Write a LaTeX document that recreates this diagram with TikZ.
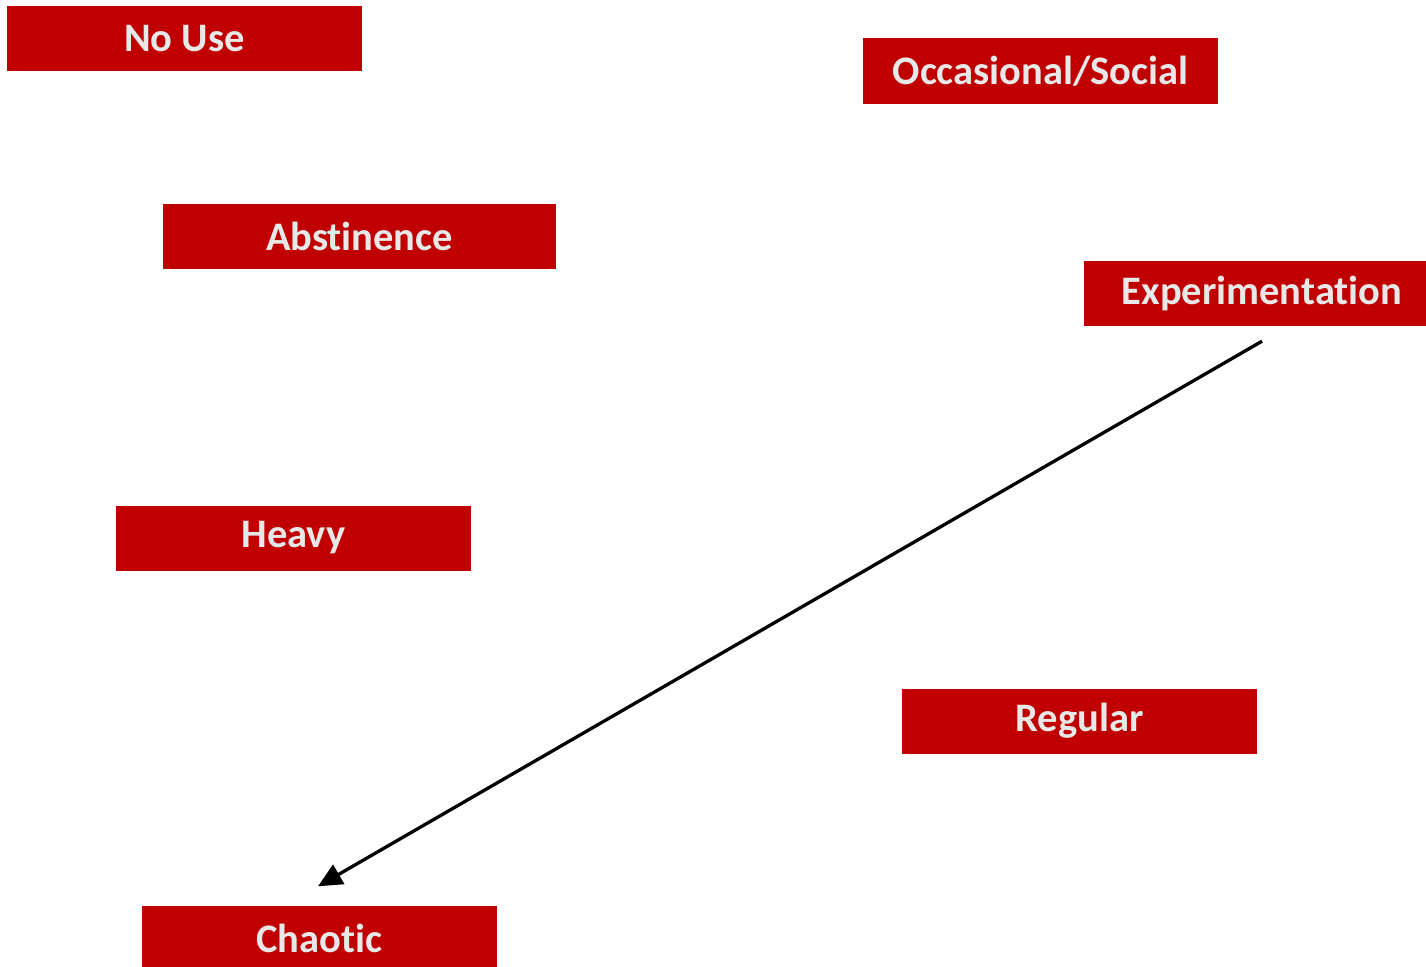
\documentclass[tikz,border=0pt]{standalone}
\usepackage{fontspec}
\setmainfont[Ligatures={NoCommon}]{Carlito}
\usetikzlibrary{arrows.meta,calc}
\definecolor{stagered}{HTML}{C00000}
\definecolor{stagetext}{HTML}{E8E8E8}
\tikzset{
  stage/.style={rectangle,fill=stagered,text=stagetext,inner sep=0pt,
    minimum width=355pt,minimum height=65pt,
    font=\fontsize{40.5}{46}\selectfont\bfseries},
}
\begin{document}
\begin{tikzpicture}[x=1pt,y=-1pt]
        \useasboundingbox (0,0) rectangle (1426,966);

        \begin{scope}[every node/.style={stage}]
          \node (nouse)   at (184.5,38.5) {No Use};
          \node (social)  at (1040.5,71)  {Occasional/Social};
          \node[minimum width=393pt] (abst) at (359.5,236) {Abstinence};
          \node[minimum width=356pt] (exp)  at (1262,293.5) {Experimentation};
          \node (heavy)   at (293.5,538)  {Heavy};
          \node (regular) at (1079.5,721) {Regular};
          \node (chaotic) at (319.5,938)  {Chaotic};
        \end{scope}

        \coordinate (expout) at ($(exp.south)+(0,15)$);
        \coordinate (chaoin) at ($(chaotic.north)+(-1.5,-19)$);
        \draw[line width=3.3pt,-{Triangle[length=24pt,width=22pt]}] (expout) -- (chaoin);

\end{tikzpicture}
\end{document}
